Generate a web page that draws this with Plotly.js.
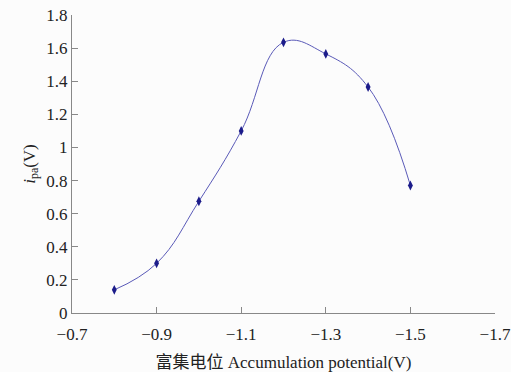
<!DOCTYPE html>
<html><head><meta charset="utf-8">
<script src="https://cdn.plot.ly/plotly-3.0.1.min.js"></script>
<style>html,body{margin:0;padding:0;background:#fcfcfc;}</style>
</head><body><div id="chart" style="width:511px;height:372px;"></div>
<script>
const potential = [-0.8, -0.9, -1.0, -1.1, -1.2, -1.3, -1.4, -1.5];
const ipa = [0.14, 0.30, 0.675, 1.10, 1.635, 1.565, 1.365, 0.77];
const xTicks = [-0.7, -0.9, -1.1, -1.3, -1.5, -1.7];
const yTicks = [0, 0.2, 0.4, 0.6, 0.8, 1, 1.2, 1.4, 1.6, 1.8];

const trace = {
  x: potential, y: ipa, type: 'scatter', mode: 'lines+markers',
  line: {shape: 'spline', smoothing: 1.2, color: '#5a5ab8', width: 1},
  marker: {symbol: 'diamond-tall', size: 7, color: '#1c1c8a'}
};
const serif = 'Liberation Serif, DejaVu Serif, serif';
const font = {family: serif, size: 17, color: '#222'};
const layout = {
  width: 511, height: 372,
  margin: {l: 72, r: 16, t: 15, b: 59},
  paper_bgcolor: '#fcfcfc', plot_bgcolor: '#fcfcfc',
  showlegend: false,
  font: font,
  xaxis: {
    range: [-0.7, -1.7], tickvals: xTicks,
    ticks: 'inside', ticklen: 6, tickcolor: '#888', linecolor: '#888', linewidth: 1,
    showline: true, showgrid: false, zeroline: false,
    tickfont: font, ticklabelstandoff: 6,
    title: {text: '富集电位 Accumulation potential(V)', font: {family: 'Liberation Serif, Noto Sans CJK SC, serif', size: 17, color: '#222'}, standoff: 14}
  },
  yaxis: {
    range: [0, 1.8], tickvals: yTicks,
    ticks: 'inside', ticklen: 6, tickcolor: '#888', linecolor: '#888', linewidth: 1,
    showline: true, showgrid: false, zeroline: false,
    tickfont: font,
    title: {text: '<i>i</i><sub>pa</sub>(V)', font: font, standoff: 6}
  }
};
Plotly.newPlot('chart', [trace], layout, {displayModeBar: false, staticPlot: true});
</script></body></html>
